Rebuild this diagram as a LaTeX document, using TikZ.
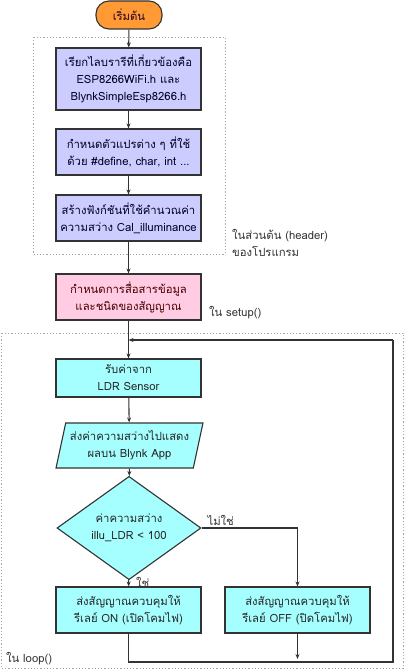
\documentclass[tikz,border=0pt]{standalone}
\usepackage{fontspec}
\setmainfont[Script=Thai]{Loma}
\usetikzlibrary{shapes.geometric,arrows.meta,calc}
\definecolor{cblue}{HTML}{CCCCFF}
\definecolor{cpink}{HTML}{FFCCE4}
\definecolor{ccyan}{HTML}{A6FFFF}
\definecolor{corange}{HTML}{FF9A35}
\definecolor{cline}{HTML}{333333}
\begin{document}
\begin{tikzpicture}[x=1pt,y=-1pt,
  every node/.style={font=\fontsize{11.3}{17}\selectfont, align=center, inner sep=0pt},
  proc/.style={draw=cline, line width=1.1pt, minimum width=145pt},
  bluebox/.style={proc, fill=cblue, text=black!85!blue},
  pinkbox/.style={proc, fill=cpink, text=black!70!red},
  cyanbox/.style={proc, fill=ccyan, text=black!85},
  conn/.style={draw=cline, line width=1.1pt, -{Stealth[length=5pt,width=4pt]}},
  plain/.style={draw=cline, line width=1.1pt},
  region/.style={draw=gray!70, line width=0.8pt, dash pattern=on 1.2pt off 2pt},
  lbl/.style={anchor=west, align=left, text=black!80}]
\useasboundingbox (0,0) rectangle (404,671);
% regions
\draw[region] (33,37) rectangle (225,254);
\draw[region] (1,333) rectangle (403,668);
% nodes
\node[draw=cline, line width=1.1pt, fill=corange, rounded corners=13pt, minimum width=66pt, minimum height=28pt, text=black!70!violet] (start) at (129,15) {เริ่มต้น};
\node[bluebox, minimum height=62pt] (b1) at (128.5,79) {เรียกไลบรารีที่เกี่ยวข้องคือ\\ESP8266WiFi.h และ\\BlynkSimpleEsp8266.h};
\node[bluebox, minimum height=46pt] (b2) at (128.5,152) {กำหนดตัวแปรต่าง ๆ ที่ใช้\\ด้วย \#define, char, int ...};
\node[bluebox, minimum height=46pt] (b3) at (128.5,218) {สร้างฟังก์ชันที่ใช้คำนวณค่า\\ความสว่าง Cal\_illuminance};
\node[pinkbox, minimum height=46pt] (setup) at (128.5,297) {กำหนดการสื่อสารข้อมูล\\และชนิดของสัญญาณ};
\node[cyanbox, minimum height=38pt] (ldr) at (128.5,378) {รับค่าจาก\\LDR Sensor};
\node[cyanbox, trapezium, trapezium left angle=73, trapezium right angle=107, trapezium stretches=true, minimum width=147pt, minimum height=45pt] (par) at (129.5,445.5) {ส่งค่าความสว่างไปแสดง\\ผลบน Blynk App};
\node[cyanbox, diamond, minimum width=144pt, minimum height=66pt] (dec) at (129,528) {ค่าความสว่าง\\illu\_LDR < 100};
\node[cyanbox, minimum height=46pt] (on) at (128.5,610) {ส่งสัญญาณควบคุมให้\\รีเลย์ ON (เปิดโคมไฟ)};
\node[cyanbox, minimum height=46pt] (off) at (297.5,610) {ส่งสัญญาณควบคุมให้\\รีเลย์ OFF (ปิดโคมไฟ)};
% labels
\node[lbl] (lh) at (232,243) {ในส่วนต้น (header)\\ของโปรแกรม};
\node[lbl] (ls) at (209,313) {ใน setup()};
\node[lbl] (ll) at (6,659) {ใน loop()};
% coordinates
\coordinate (join) at (128.5,340);
\coordinate (br) at (393,662);
\coordinate (tr) at (393,340);
% connectors
\draw[conn] (start) -- (b1);
\draw[conn] (b1) -- (b2);
\draw[conn] (b2) -- (b3);
\draw[conn] (b3) -- (setup);
\draw[conn] (setup) -- (ldr);
\draw[conn] (ldr) -- (par);
\draw[conn] (par) -- (dec);
\draw[conn] (dec) -- node[right=7pt, pos=0.4, text=black!80] (yes) {ใช่} (on);
\draw[conn] (dec.east) -- node[above=2pt, pos=0.2, text=black!80] (no) {ไม่ใช่} (dec.east -| off) -- (off);
\draw[plain] (on.south) -- (on.south |- br) -- (br) -- (tr);
\draw[conn] (tr) -- (join);
\draw[conn] (off.south) -- ($(off.south |- br)+(0,-3)$);
\end{tikzpicture}
\end{document}
